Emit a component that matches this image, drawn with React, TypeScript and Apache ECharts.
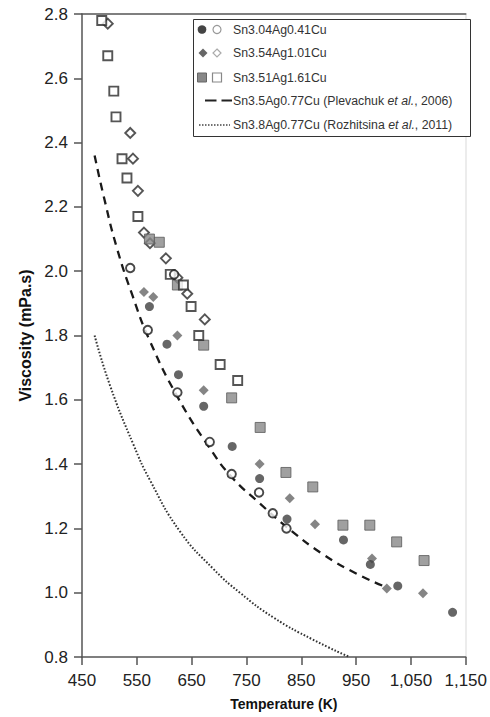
import React, { useEffect, useRef } from "react";
import * as echarts from "echarts";

// ---------- data ----------
// Sn3.04Ag0.41Cu (filled / open circles)
const circleFilledT = [573, 605, 626, 672, 724, 774, 824, 927, 976, 1026, 1126];
const circleFilledV = [1.89, 1.773, 1.678, 1.58, 1.455, 1.355, 1.229, 1.164, 1.088, 1.021, 0.939];
const circleOpenT = [538, 570, 618, 624, 683, 723, 773, 798, 823];
const circleOpenV = [2.01, 1.817, 1.99, 1.623, 1.469, 1.369, 1.312, 1.247, 1.2];

// Sn3.54Ag1.01Cu (filled / open diamonds)
const diamondFilledT = [563, 580, 624, 672, 774, 829, 875, 979, 1006, 1072];
const diamondFilledV = [1.935, 1.92, 1.8, 1.63, 1.4, 1.294, 1.213, 1.106, 1.013, 0.998];
const diamondOpenT = [497, 538, 543, 552, 563, 574, 603, 624, 642, 674];
const diamondOpenV = [2.77, 2.43, 2.35, 2.25, 2.12, 2.087, 2.04, 1.98, 1.93, 1.85];

// Sn3.51Ag1.61Cu (filled / open squares)
const squareFilledT = [573, 591, 624, 672, 723, 775, 822, 871, 926, 975, 1024, 1074];
const squareFilledV = [2.1, 2.09, 1.957, 1.77, 1.606, 1.514, 1.374, 1.329, 1.21, 1.21, 1.158, 1.1];
const squareOpenT = [486, 497, 508, 512, 523, 532, 552, 611, 635, 649, 663, 702, 734];
const squareOpenV = [2.78, 2.67, 2.56, 2.48, 2.35, 2.29, 2.17, 1.99, 1.957, 1.89, 1.8, 1.71, 1.66];

// Sn3.5Ag0.77Cu (Plevachuk et al., 2006) dashed curve
const plevachukT = [473, 490, 514, 543, 572, 624, 683, 723, 773, 823, 889, 950, 1001];
const plevachukV = [2.36, 2.23, 2.07, 1.92, 1.79, 1.61, 1.45, 1.36, 1.28, 1.205, 1.12, 1.06, 1.02];

// Sn3.8Ag0.77Cu (Rozhitsina et al., 2011) dotted curve
const rozhitsinaT = [473, 501, 544, 574, 629, 689, 738, 800, 870, 938];
const rozhitsinaV = [1.8, 1.645, 1.46, 1.35, 1.19, 1.075, 1.0, 0.922, 0.855, 0.8];

const xTicks = [450, 550, 650, 750, 850, 950, 1050, 1150];
const yTicks = [0.8, 1.0, 1.2, 1.4, 1.6, 1.8, 2.0, 2.2, 2.4, 2.6, 2.8];

const legendLabels = [
  "Sn3.04Ag0.41Cu",
  "Sn3.54Ag1.01Cu",
  "Sn3.51Ag1.61Cu",
  "Sn3.5Ag0.77Cu (Plevachuk {i|et al.}, 2006)",
  "Sn3.8Ag0.77Cu (Rozhitsina {i|et al.}, 2011)",
];

const pairs = (t: number[], v: number[]) => t.map((x, i) => [x, v[i]]);

const FONT = "'Liberation Sans', Arial, Helvetica, sans-serif";

export default function App() {
  const ref = useRef<HTMLDivElement>(null);

  useEffect(() => {
    if (!ref.current) return;
    const chart = echarts.init(ref.current, undefined, { renderer: "svg" });

    const fmtX = (v: number) => {
      const s = String(Math.round(v));
      return s.length > 3 ? s.slice(0, s.length - 3) + "," + s.slice(s.length - 3) : s;
    };

    const legendRowsY = [29.5, 53, 77.5, 100.5, 125];
    const textX = 233;

    const graphic: any[] = [
      {
        type: "rect",
        shape: { x: 193.5, y: 19.5, width: 277, height: 117 },
        style: { fill: "#fff", stroke: "#333", lineWidth: 1 },
        z: 100,
      },
      { type: "circle", shape: { cx: 202, cy: legendRowsY[0], r: 4.3 }, style: { fill: "#444" }, z: 101 },
      {
        type: "circle",
        shape: { cx: 217, cy: legendRowsY[0], r: 4 },
        style: { fill: "#fff", stroke: "#999", lineWidth: 1.2 },
        z: 101,
      },
      {
        type: "polygon",
        shape: {
          points: [
            [203, legendRowsY[1] - 4.5],
            [207.5, legendRowsY[1]],
            [203, legendRowsY[1] + 4.5],
            [198.5, legendRowsY[1]],
          ],
        },
        style: { fill: "#666" },
        z: 101,
      },
      {
        type: "polygon",
        shape: {
          points: [
            [217, legendRowsY[1] - 4],
            [221, legendRowsY[1]],
            [217, legendRowsY[1] + 4],
            [213, legendRowsY[1]],
          ],
        },
        style: { fill: "#fff", stroke: "#aaa", lineWidth: 1.2 },
        z: 101,
      },
      {
        type: "rect",
        shape: { x: 197.5, y: legendRowsY[2] - 4.5, width: 9, height: 9 },
        style: { fill: "#888", stroke: "#666", lineWidth: 1 },
        z: 101,
      },
      {
        type: "rect",
        shape: { x: 212.5, y: legendRowsY[2] - 4.5, width: 9, height: 9 },
        style: { fill: "#fff", stroke: "#888", lineWidth: 1.2 },
        z: 101,
      },
      {
        type: "line",
        shape: { x1: 205, y1: legendRowsY[3], x2: 232, y2: legendRowsY[3] },
        style: { stroke: "#222", lineWidth: 2, lineDash: [11.5, 5] },
        z: 101,
      },
      {
        type: "line",
        shape: { x1: 199, y1: legendRowsY[4], x2: 230, y2: legendRowsY[4] },
        style: { stroke: "#444", lineWidth: 1.6, lineDash: [1.5, 1.5] },
        z: 101,
      },
      ...legendLabels.map((t, i) => ({
        type: "text",
        x: textX,
        y: legendRowsY[i],
        z: 101,
        style: {
          text: t,
          fill: "#333",
          fontSize: 12.3,
          fontFamily: FONT,
          verticalAlign: "middle",
          align: "left",
          rich: {
            i: { fontStyle: "italic", fontSize: 12.3, fontFamily: FONT, fill: "#333" },
          },
        },
      })),
    ];

    const option: any = {
      animation: false,
      backgroundColor: "#fff",
      textStyle: { fontFamily: FONT },
      grid: { left: 82, top: 14, right: 23, bottom: 60, containLabel: false },
      xAxis: [
        {
          type: "value",
          min: xTicks[0],
          max: xTicks[xTicks.length - 1],
          interval: 100,
          axisLine: { show: true, onZero: false, lineStyle: { color: "#555", width: 1.5 } },
          axisTick: { show: true, length: 8, lineStyle: { color: "#555", width: 1.5 } },
          axisLabel: { margin: 15, fontSize: 17, color: "#222", fontFamily: FONT, formatter: fmtX },
          splitLine: { show: false },
          name: "Temperature (K)",
          nameLocation: "middle",
          nameGap: 40,
          nameTextStyle: {
            fontWeight: "bold",
            fontSize: 14,
            color: "#111",
            fontFamily: FONT,
            padding: [0, 0, 0, 20],
          },
        },
        {
          type: "value",
          position: "top",
          min: xTicks[0],
          max: xTicks[xTicks.length - 1],
          interval: 100,
          axisLine: { show: true, onZero: false, lineStyle: { color: "#555", width: 1.5 } },
          axisTick: { show: false },
          axisLabel: { show: false },
          splitLine: { show: false },
        },
      ],
      yAxis: [
        {
          type: "value",
          min: yTicks[0],
          max: yTicks[yTicks.length - 1],
          interval: 0.2,
          axisLine: { show: true, onZero: false, lineStyle: { color: "#555", width: 1.5 } },
          axisTick: { show: true, length: 8, lineStyle: { color: "#555", width: 1.5 } },
          axisLabel: {
            margin: 14,
            fontSize: 17,
            color: "#222",
            fontFamily: FONT,
            formatter: (v: number) => v.toFixed(1),
          },
          splitLine: { show: false },
          name: "Viscosity (mPa.s)",
          nameLocation: "middle",
          nameGap: 44,
          nameRotate: 90,
          nameTextStyle: { fontWeight: "bold", fontSize: 16, color: "#111", fontFamily: FONT },
        },
        {
          type: "value",
          position: "right",
          min: yTicks[0],
          max: yTicks[yTicks.length - 1],
          interval: 0.2,
          axisLine: { show: true, onZero: false, lineStyle: { color: "#e6e6e6", width: 1.5 } },
          axisTick: { show: false },
          axisLabel: { show: false },
          splitLine: { show: false },
        },
      ],
      series: [
        {
          type: "line",
          data: pairs(rozhitsinaT, rozhitsinaV),
          smooth: 0.5,
          symbol: "none",
          lineStyle: { color: "#333", width: 2, type: [1.6, 1.8] },
          z: 2,
        },
        {
          type: "line",
          data: pairs(plevachukT, plevachukV),
          smooth: 0.5,
          symbol: "none",
          lineStyle: { color: "#1a1a1a", width: 2.3, type: [8, 6] },
          z: 2,
        },
        {
          type: "scatter",
          data: pairs(diamondOpenT, diamondOpenV),
          symbol: "diamond",
          symbolSize: 10,
          itemStyle: { color: "#fff", borderColor: "#2a2a2a", borderWidth: 1.9 },
          z: 3,
        },
        {
          type: "scatter",
          data: pairs(squareFilledT, squareFilledV),
          symbol: "rect",
          symbolSize: 10,
          itemStyle: { color: "#888", borderColor: "#5a5a5a", borderWidth: 1 },
          z: 3,
        },
        {
          type: "scatter",
          data: pairs(squareOpenT, squareOpenV),
          symbol: "rect",
          symbolSize: 9,
          itemStyle: { color: "#fff", borderColor: "#2a2a2a", borderWidth: 1.9 },
          z: 4,
        },
        {
          type: "scatter",
          data: pairs(diamondFilledT, diamondFilledV),
          symbol: "diamond",
          symbolSize: 10,
          itemStyle: { color: "#666" },
          z: 4,
        },
        {
          type: "scatter",
          data: pairs(circleFilledT, circleFilledV),
          symbol: "circle",
          symbolSize: 9,
          itemStyle: { color: "#404040" },
          z: 4,
        },
        {
          type: "scatter",
          data: pairs(circleOpenT, circleOpenV),
          symbol: "circle",
          symbolSize: 8.5,
          itemStyle: { color: "#fff", borderColor: "#1a1a1a", borderWidth: 1.9 },
          z: 5,
        },
      ],
      graphic,
    };

    chart.setOption(option);
    return () => chart.dispose();
  }, []);

  return (
    <div
      ref={ref}
      style={{ position: "fixed", left: 0, top: 0, width: 490, height: 717, background: "#fff" }}
    />
  );
}
